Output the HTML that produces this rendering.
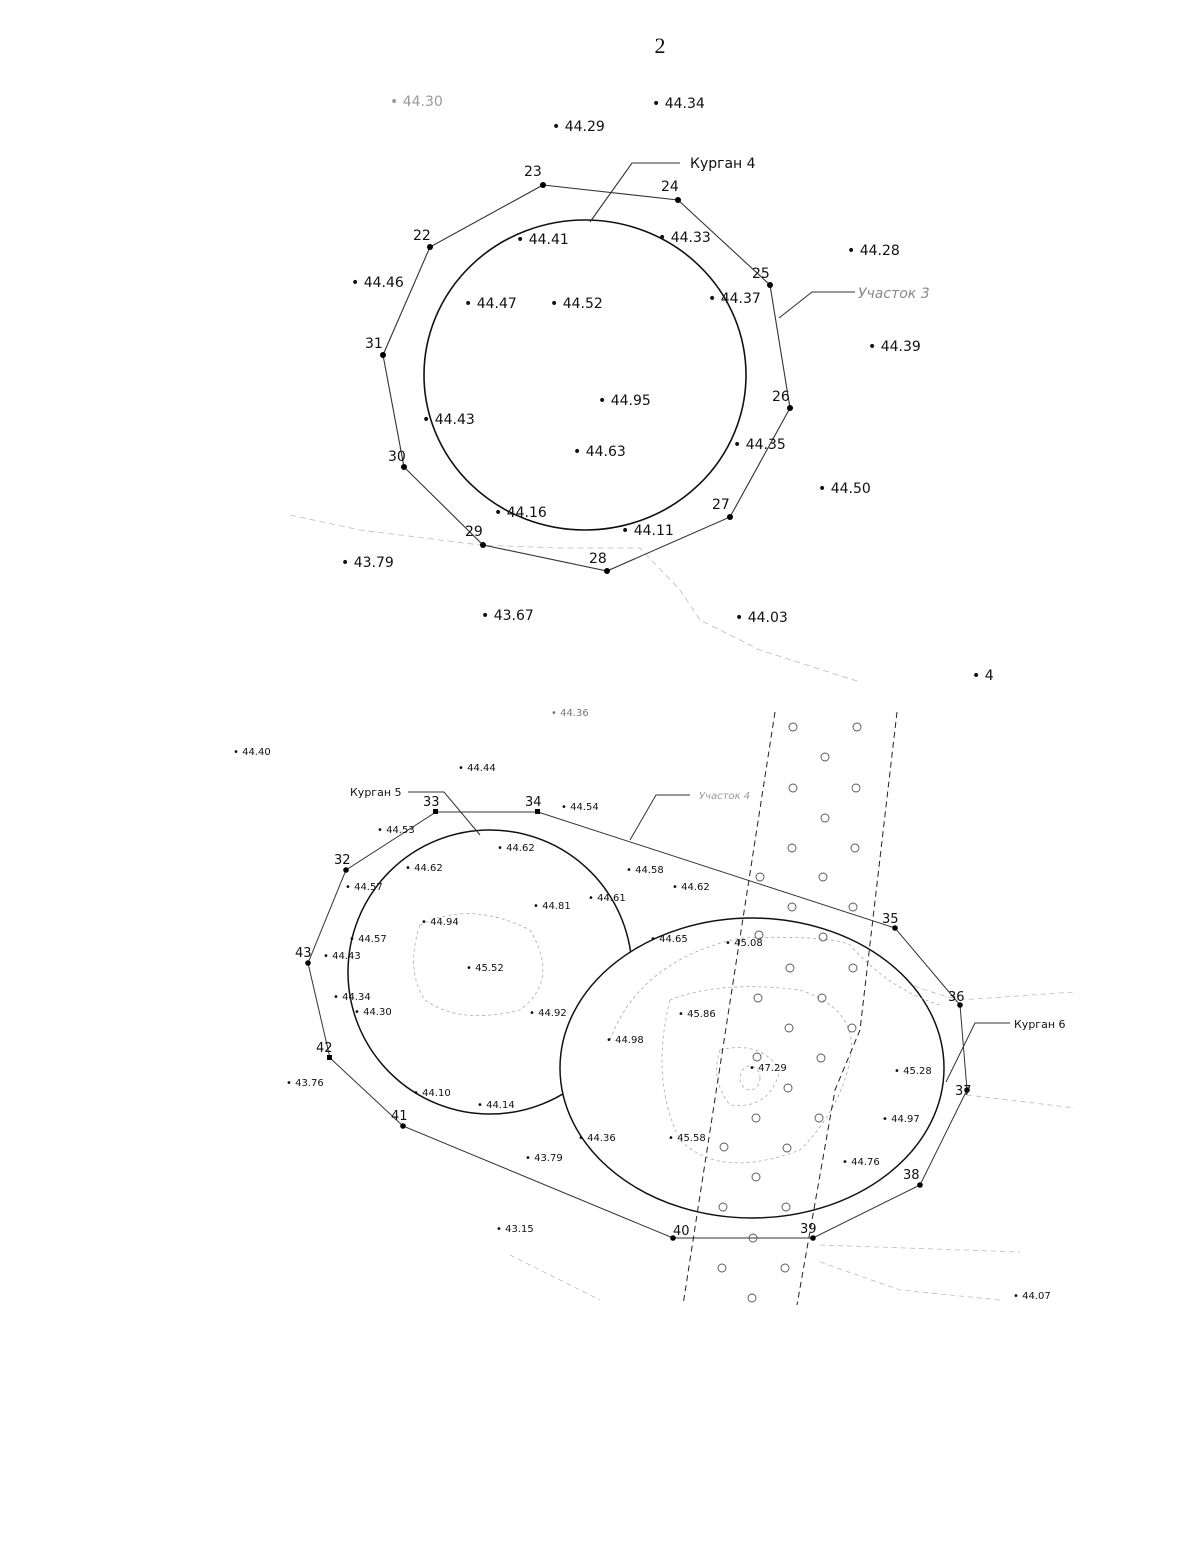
<!DOCTYPE html>
<html><head><meta charset="utf-8"><style>
html,body{margin:0;padding:0;background:#fff;width:1200px;height:1553px;overflow:hidden}
svg{display:block}
text{font-family:"DejaVu Sans","Liberation Sans",sans-serif;fill:#111}
.n{font-size:14px}
.s{font-size:10px}
.l{font-size:13px}
</style></head><body>
<svg width="1200" height="1553" viewBox="0 0 1200 1553" xmlns="http://www.w3.org/2000/svg">
<text x="660" y="53" style="font-family:'Liberation Serif',serif;font-size:22px" text-anchor="middle">2</text>

<!-- faint contour lines top -->
<g stroke="#bbb" stroke-width="0.8" fill="none" stroke-dasharray="6 4">
<path d="M290 515 L360 530 L480 545 L560 548 L640 548 L680 590 L700 620 L760 650 L860 682"/>
</g>

<!-- top polygon -->
<g stroke="#333" stroke-width="1.1" fill="none">
<polygon points="543,185 678,200 770,285 790,408 730,517 607,571 483,545 404,467 383,355 430,247"/>
<ellipse cx="585" cy="375" rx="161" ry="155" stroke="#111" stroke-width="1.6"/>
<polyline points="590,222 632,163 680,163"/>
<polyline points="779,318 812,292 855,292"/>
</g>
<g fill="#000">
<circle cx="543" cy="185" r="3"/><circle cx="678" cy="200" r="3"/><circle cx="770" cy="285" r="3"/><circle cx="790" cy="408" r="3"/><circle cx="730" cy="517" r="3"/><circle cx="607" cy="571" r="3"/><circle cx="483" cy="545" r="3"/><circle cx="404" cy="467" r="3"/><circle cx="383" cy="355" r="3"/><circle cx="430" cy="247" r="3"/>
</g>
<g class="n">
<text x="524" y="176">23</text><text x="661" y="191">24</text><text x="752" y="278">25</text><text x="772" y="401">26</text><text x="712" y="509">27</text><text x="589" y="563">28</text><text x="465" y="536">29</text><text x="388" y="461">30</text><text x="365" y="348">31</text><text x="413" y="240">22</text>
<text x="690" y="168">Курган 4</text>
<text x="858" y="298" fill="#777" style="font-style:italic;fill:#888">Участок 3</text>
</g>
<g class="n" fill="#222">
<text x="390" y="106" style="fill:#999">•  44.30</text>
<text x="652" y="108">•  44.34</text>
<text x="552" y="131">•  44.29</text>
<text x="516" y="244">•  44.41</text>
<text x="658" y="242">•  44.33</text>
<text x="847" y="255">•  44.28</text>
<text x="351" y="287">•  44.46</text>
<text x="464" y="308">•  44.47</text>
<text x="550" y="308">•  44.52</text>
<text x="708" y="303">•  44.37</text>
<text x="868" y="351">•  44.39</text>
<text x="598" y="405">•  44.95</text>
<text x="422" y="424">•  44.43</text>
<text x="573" y="456">•  44.63</text>
<text x="733" y="449">•  44.35</text>
<text x="818" y="493">•  44.50</text>
<text x="494" y="517">•  44.16</text>
<text x="621" y="535">•  44.11</text>
<text x="341" y="567">•  43.79</text>
<text x="481" y="620">•  43.67</text>
<text x="735" y="622">•  44.03</text>
<text x="972" y="680">•  4</text>
</g>

<!-- bottom faint lines -->
<g stroke="#bbb" stroke-width="0.8" fill="none" stroke-dasharray="5 4">
<path d="M960 1000 L1075 992"/>
<path d="M967 1095 L1075 1108"/>
<path d="M820 1262 L900 1290 L1000 1300"/>
<path d="M510 1255 L600 1300"/>
<path d="M820 1245 L1020 1252"/>
<path d="M845 945 Q880 980 960 1000"/>
</g>

<!-- bottom polygon -->
<g stroke="#333" stroke-width="1" fill="none">
<polygon points="436,812 538,812 895,928 960,1005 967,1090 920,1185 813,1238 673,1238 403,1126 330,1058 308,963 346,870"/>
<circle cx="490" cy="972" r="142" stroke="#111" stroke-width="1.5"/>
<polyline points="408,792 444,792 480,835"/>
<polyline points="630,840 656,795 690,795"/>
<polyline points="1010,1023 975,1023 946,1082"/>
</g>
<ellipse cx="752" cy="1068" rx="192" ry="150" fill="#fff" stroke="#111" stroke-width="1.5"/>
<!-- inner contours -->
<g stroke="#aaa" stroke-width="0.8" fill="none" stroke-dasharray="3 3">
<path d="M420 925 Q470 900 530 930 Q560 980 520 1010 Q460 1025 425 1000 Q405 970 420 925Z"/>
<path d="M610 1040 Q640 960 740 938 Q830 935 850 945 Q890 990 940 1005"/>
<path d="M670 1000 Q720 980 800 990 Q860 1010 850 1060 Q840 1110 800 1150 Q720 1180 680 1140 Q650 1080 670 1000Z"/>
<path d="M720 1050 Q760 1040 780 1070 Q770 1110 730 1105 Q710 1080 720 1050Z"/>
<ellipse cx="750" cy="1078" rx="10" ry="12"/>
</g>
<!-- dashed road -->
<g stroke="#222" stroke-width="1" fill="none" stroke-dasharray="6 4">
<path d="M775 712 L683 1305"/>
<path d="M897 712 L860 1030 L835 1090 L797 1305"/>
</g>
<!-- grid circles -->
<g stroke="#555" stroke-width="0.9" fill="none">
<circle cx="793" cy="727" r="4"/><circle cx="857" cy="727" r="4"/><circle cx="825" cy="757" r="4"/><circle cx="793" cy="788" r="4"/><circle cx="856" cy="788" r="4"/><circle cx="825" cy="818" r="4"/><circle cx="792" cy="848" r="4"/><circle cx="855" cy="848" r="4"/><circle cx="823" cy="877" r="4"/><circle cx="760" cy="877" r="4"/>
<circle cx="792" cy="907" r="4"/><circle cx="853" cy="907" r="4"/><circle cx="759" cy="935" r="4"/><circle cx="823" cy="937" r="4"/><circle cx="790" cy="968" r="4"/><circle cx="853" cy="968" r="4"/><circle cx="758" cy="998" r="4"/><circle cx="822" cy="998" r="4"/><circle cx="789" cy="1028" r="4"/><circle cx="852" cy="1028" r="4"/><circle cx="757" cy="1057" r="4"/><circle cx="821" cy="1058" r="4"/><circle cx="788" cy="1088" r="4"/><circle cx="756" cy="1118" r="4"/><circle cx="819" cy="1118" r="4"/><circle cx="724" cy="1147" r="4"/><circle cx="787" cy="1148" r="4"/><circle cx="756" cy="1177" r="4"/><circle cx="723" cy="1207" r="4"/><circle cx="786" cy="1207" r="4"/><circle cx="753" cy="1238" r="4"/><circle cx="722" cy="1268" r="4"/><circle cx="785" cy="1268" r="4"/><circle cx="752" cy="1298" r="4"/>
</g>
<g fill="#000">
<rect x="433" y="809" width="5" height="5"/><rect x="535" y="809" width="5" height="5"/><circle cx="895" cy="928" r="2.8"/><circle cx="960" cy="1005" r="2.8"/><circle cx="967" cy="1090" r="2.8"/><circle cx="920" cy="1185" r="2.8"/><circle cx="813" cy="1238" r="2.8"/><circle cx="673" cy="1238" r="2.8"/><circle cx="403" cy="1126" r="2.8"/><rect x="327" y="1055" width="5" height="5"/><circle cx="308" cy="963" r="2.8"/><circle cx="346" cy="870" r="2.8"/>
</g>
<g class="l">
<text x="423" y="806">33</text><text x="525" y="806">34</text><text x="882" y="923">35</text><text x="948" y="1001">36</text><text x="955" y="1095">37</text><text x="903" y="1179">38</text><text x="800" y="1233">39</text><text x="673" y="1235">40</text><text x="391" y="1120">41</text><text x="316" y="1052">42</text><text x="295" y="957">43</text><text x="334" y="864">32</text>
</g>
<g class="s">
<text x="350" y="796" style="font-size:11px">Курган 5</text>
<text x="1014" y="1028" style="font-size:11px">Курган 6</text>
<text x="699" y="799" style="fill:#999;font-style:italic">Участок 4</text>
<text x="551" y="716" style="fill:#777">•  44.36</text>
<text x="233" y="755">•  44.40</text>
<text x="458" y="771">•  44.44</text>
<text x="561" y="810">•  44.54</text>
<text x="377" y="833">•  44.53</text>
<text x="497" y="851">•  44.62</text>
<text x="405" y="871">•  44.62</text>
<text x="626" y="873">•  44.58</text>
<text x="345" y="890">•  44.57</text>
<text x="672" y="890">•  44.62</text>
<text x="588" y="901">•  44.61</text>
<text x="533" y="909">•  44.81</text>
<text x="421" y="925">•  44.94</text>
<text x="349" y="942">•  44.57</text>
<text x="650" y="942">•  44.65</text>
<text x="725" y="946">•  45.08</text>
<text x="323" y="959">•  44.43</text>
<text x="466" y="971">•  45.52</text>
<text x="333" y="1000">•  44.34</text>
<text x="354" y="1015">•  44.30</text>
<text x="678" y="1017">•  45.86</text>
<text x="529" y="1016">•  44.92</text>
<text x="606" y="1043">•  44.98</text>
<text x="749" y="1071">•  47.29</text>
<text x="894" y="1074">•  45.28</text>
<text x="286" y="1086">•  43.76</text>
<text x="413" y="1096">•  44.10</text>
<text x="477" y="1108">•  44.14</text>
<text x="882" y="1122">•  44.97</text>
<text x="578" y="1141">•  44.36</text>
<text x="668" y="1141">•  45.58</text>
<text x="525" y="1161">•  43.79</text>
<text x="842" y="1165">•  44.76</text>
<text x="496" y="1232">•  43.15</text>
<text x="1013" y="1299">•  44.07</text>
</g>
</svg>
</body></html>
